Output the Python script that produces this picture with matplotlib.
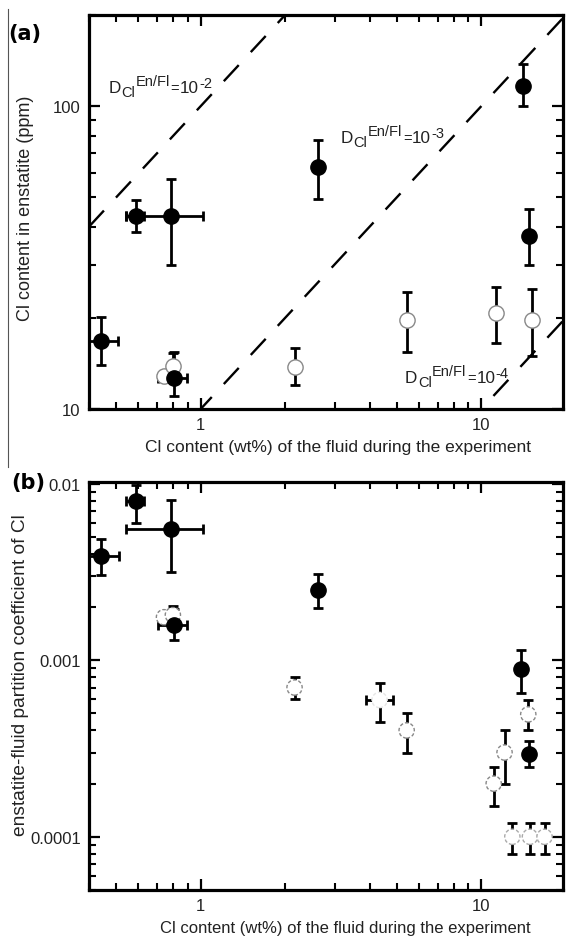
import matplotlib
matplotlib.use('Agg')
import matplotlib.pyplot as plt
import numpy as np
from matplotlib.ticker import LogLocator, NullFormatter, FixedLocator, FixedFormatter
from matplotlib.lines import Line2D
from matplotlib.transforms import offset_copy

plt.rcParams['font.family'] = ['Liberation Sans', 'DejaVu Sans']

# ---------------- Panel (a) data: Cl in enstatite (ppm) vs Cl in fluid (wt%)
a_fill_x   = [0.441, 0.59, 0.785, 0.804, 2.62, 14.1, 14.77]
a_fill_y   = [16.8, 43.5, 43.3, 12.7, 63.0, 117.0, 37.4]
a_fill_ylo = [14.0, 38.4, 29.9, 11.0, 49.4, 100.0, 29.9]
a_fill_yhi = [20.1, 49.0, 57.5, 15.4, 77.6, 138.0, 45.8]
a_fill_xlo = [0.385, 0.541, 0.541, 0.707, 2.62, 14.1, 14.77]
a_fill_xhi = [0.506, 0.628, 1.017, 0.896, 2.62, 14.1, 14.77]

a_open_x   = [0.74, 0.796, 2.17, 5.45, 11.3, 15.1]
a_open_y   = [12.9, 13.9, 13.8, 19.7, 20.7, 19.7]
a_open_ylo = [12.9, 12.4, 12.0, 15.4, 16.5, 15.0]
a_open_yhi = [12.9, 15.3, 15.9, 24.3, 25.2, 24.9]

a_D_values = [1e-2, 1e-3, 1e-4]
a_D_exps = ['-2', '-3', '-4']
a_D_label_x = [0.468, 3.155, 5.34]
a_D_label_y = [111.2, 76.0, 12.25]

# ---------------- Panel (b) data: partition coefficient vs Cl in fluid (wt%)
b_fill_x   = [0.441, 0.59, 0.785, 0.804, 2.62, 13.8, 14.77]
b_fill_y   = [0.0039, 0.0080, 0.00555, 0.00159, 0.00248, 0.000897, 0.000296]
b_fill_ylo = [0.00305, 0.0060, 0.00315, 0.0013, 0.00197, 0.00065, 0.00025]
b_fill_yhi = [0.00487, 0.0098, 0.0081, 0.00195, 0.00308, 0.00114, 0.00035]
b_fill_xlo = [0.385, 0.541, 0.541, 0.707, 2.62, 13.8, 14.77]
b_fill_xhi = [0.51, 0.628, 1.02, 0.896, 2.62, 13.8, 14.77]

b_open_x   = [0.74, 0.796, 2.16, 4.34, 5.42, 11.07, 12.1, 14.7, 12.9, 14.9, 16.8]
b_open_y   = [0.00175, 0.0018, 0.0007, 0.000595, 0.0004, 0.0002, 0.0003, 0.000493, 0.0001, 0.0001, 0.0001]
b_open_ylo = [0.00175, 0.00165, 0.0006, 0.000446, 0.0003, 0.00015, 0.0002, 0.0004, 0.00008, 0.00008, 0.00008]
b_open_yhi = [0.00175, 0.00202, 0.0008, 0.00074, 0.0005, 0.00025, 0.0004, 0.000595, 0.00012, 0.00012, 0.00012]
b_open_xlo = [0.74, 0.796, 2.16, 3.88, 5.42, 11.07, 12.1, 14.7, 12.9, 14.9, 16.8]
b_open_xhi = [0.74, 0.796, 2.16, 4.86, 5.42, 11.07, 12.1, 14.7, 12.9, 14.9, 16.8]
b_open_edge = ['#888888', '#888888', '#888888', '#e6e6e6', '#888888', '#888888',
               '#888888', '#888888', '#aaaaaa', '#aaaaaa', '#aaaaaa']

XLIM = (0.4, 19.5)
XLABEL = 'Cl content (wt%) of the fluid during the experiment'
TXT = '#222222'

W, H = 567, 937
DPI = 100
fig = plt.figure(figsize=(W / DPI, H / DPI), dpi=DPI)
renderer = fig.canvas.get_renderer()


def rect(l, r, t, b):
    return [l / W, 1 - b / H, (r - l) / W, (b - t) / H]


axA = fig.add_axes(rect(89, 562.7, 16, 410))
axB = fig.add_axes(rect(89, 562.7, 483, 891))

MS = 11
EB = dict(ecolor='black', elinewidth=2.0, capsize=3.6, capthick=2.0)


def style_axes(ax, yticks, ylabels, xlabelsize, xlabelpad, xlabelx):
    ax.set_xscale('log')
    ax.set_yscale('log')
    ax.set_xlim(*XLIM)
    ax.xaxis.set_major_locator(FixedLocator([1, 10]))
    ax.xaxis.set_major_formatter(FixedFormatter(['1', '10']))
    ax.xaxis.set_minor_locator(LogLocator(base=10, subs=np.arange(2, 10)))
    ax.xaxis.set_minor_formatter(NullFormatter())
    ax.yaxis.set_major_locator(FixedLocator(yticks))
    ax.yaxis.set_major_formatter(FixedFormatter(ylabels))
    ax.yaxis.set_minor_locator(LogLocator(base=10, subs=np.arange(2, 10)))
    ax.yaxis.set_minor_formatter(NullFormatter())
    ax.tick_params(which='both', direction='in', top=True, right=True,
                   labelsize=12, labelcolor=TXT, color='black')
    ax.tick_params(which='major', length=8, width=1.6, pad=6)
    ax.tick_params(which='minor', length=5, width=1.5)
    for s in ax.spines.values():
        s.set_linewidth(2.3)
    ax.set_xlabel(XLABEL, fontsize=xlabelsize, color=TXT, labelpad=xlabelpad)
    ax.xaxis.label.set_x(xlabelx)


def draw_points(ax, xs, ys, ylo, yhi, xlo, xhi, face, edges, dashed=False):
    for i in range(len(xs)):
        x, y = xs[i], ys[i]
        yerr = [[y - ylo[i]], [yhi[i] - y]]
        xerr = None
        if xlo[i] != x or xhi[i] != x:
            xerr = [[x - xlo[i]], [xhi[i] - x]]
        ax.errorbar([x], [y], yerr=yerr, xerr=xerr, fmt='none', zorder=2, **EB)
        if dashed:
            ax.scatter([x], [y], s=MS ** 2, facecolors=face, edgecolors=edges[i],
                       linewidths=1.0, linestyles=(0, (2.5, 1.5)), zorder=3)
        else:
            ax.plot([x], [y], 'o', ms=MS, mfc=face, mec=edges[i], mew=1.0, zorder=3)


def d_label(ax, x, y, exp):
    # D_Cl^{En/Fl}=10^{exp}, composed piece by piece (sizes in pt, dy in pt)
    parts = [('D', 12.3, 0.0),
             ('Cl', 10.5, -2.4),
             ('En/Fl', 10.5, 5.3),
             ('=', 10.5, 0.0),
             ('10', 12.3, 0.0),
             (exp, 10.5, 3.8)]
    dx = 0.0
    for txt, size, dy in parts:
        tr = offset_copy(ax.transData, fig=fig, x=dx, y=dy, units='points')
        t = ax.text(x, y, txt, fontsize=size, color=TXT, ha='left',
                    va='baseline', transform=tr)
        dx += t.get_window_extent(renderer).width * 72.0 / DPI + 0.4


# ---------------- Panel (a)
style_axes(axA, [10, 100], ['10', '100'], 12.5, 4.5, 0.5257)
axA.set_ylim(10, 200)
xx = np.geomspace(XLIM[0], XLIM[1], 50)
for D in a_D_values:
    axA.plot(xx, D * xx * 1e4, color='black', lw=1.7, dashes=(9.3, 7.5), zorder=1)
for lx, ly, e in zip(a_D_label_x, a_D_label_y, a_D_exps):
    d_label(axA, lx, ly, e)
draw_points(axA, a_open_x, a_open_y, a_open_ylo, a_open_yhi, a_open_x, a_open_x,
            'white', ['#888888'] * len(a_open_x))
draw_points(axA, a_fill_x, a_fill_y, a_fill_ylo, a_fill_yhi, a_fill_xlo, a_fill_xhi,
            'black', ['black'] * len(a_fill_x))
axA.set_ylabel('Cl content in enstatite (ppm)', fontsize=13, color=TXT)
axA.yaxis.set_label_coords(-0.117, 0.511)

# ---------------- Panel (b)
style_axes(axB, [0.0001, 0.001, 0.01], ['0.0001', '0.001', '0.01'], 12, 5, 0.5416)
axB.set_ylim(5e-5, 0.0102)
draw_points(axB, b_open_x, b_open_y, b_open_ylo, b_open_yhi, b_open_xlo, b_open_xhi,
            'white', b_open_edge, dashed=True)
draw_points(axB, b_fill_x, b_fill_y, b_fill_ylo, b_fill_yhi, b_fill_xlo, b_fill_xhi,
            'black', ['black'] * len(b_fill_x))
axB.set_ylabel('enstatite-fluid partition coefficient of Cl', fontsize=13.8, color=TXT)
axB.yaxis.set_label_coords(-0.127, 0.528)

# panel letters
fig.text(8 / W, 1 - 34 / H, '(a)', fontsize=15, fontweight='bold', ha='left',
         va='center', family='DejaVu Sans')
fig.text(11 / W, 1 - 483 / H, '(b)', fontsize=15, fontweight='bold', ha='left',
         va='center', family='DejaVu Sans')
fig.add_artist(Line2D([8.3 / W, 8.3 / W], [1 - 10 / H, 1 - 468 / H], color='#555555', lw=0.8))

fig.savefig('out.png', dpi=DPI)
